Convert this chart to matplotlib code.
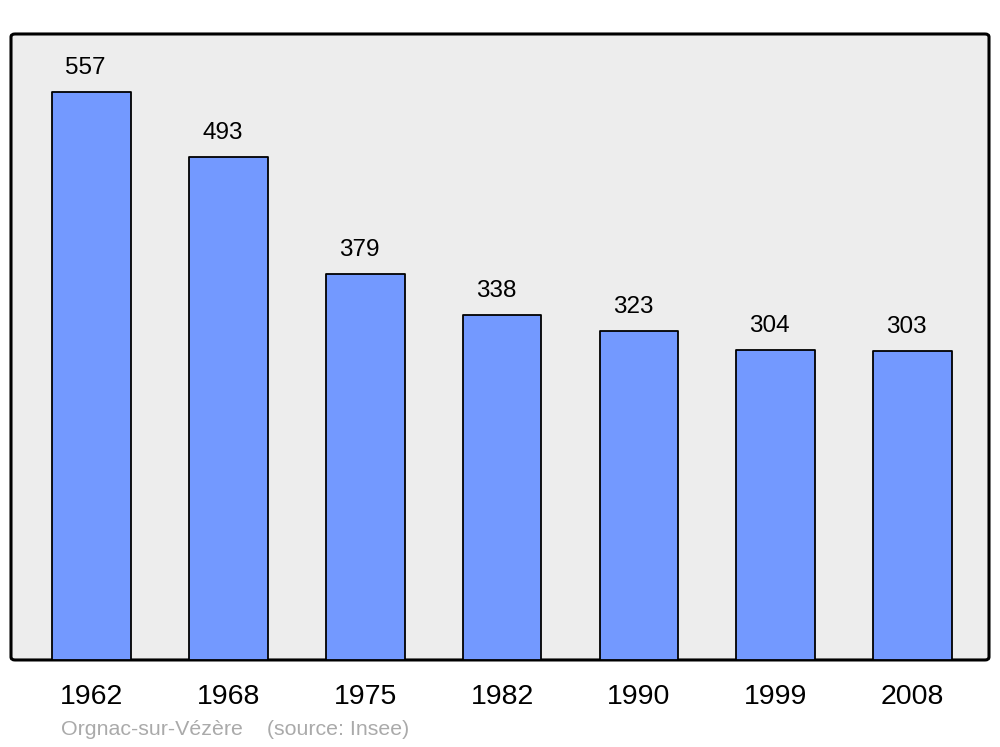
import matplotlib
matplotlib.use("Agg")
import matplotlib.pyplot as plt
from matplotlib.patches import FancyBboxPatch
from matplotlib.transforms import offset_copy

plt.rcParams['font.family'] = ['Liberation Sans', 'DejaVu Sans']

years = ["1962", "1968", "1975", "1982", "1990", "1999", "2008"]
population = [557, 493, 379, 338, 323, 304, 303]
footer = "Orgnac-sur-Vézère    (source: Insee)"

fig = plt.figure(figsize=(10, 7.47), dpi=100)
ax = fig.add_axes([0.011, 0.1165, 0.978, 0.838])
ax.set_facecolor("none")

# rounded frame with grey background, drawn under the axes
frame = FancyBboxPatch((0.011, 0.1165), 0.978, 0.838,
                       boxstyle="round,pad=0,rounding_size=0.004",
                       transform=fig.transFigure, facecolor="#ededed",
                       edgecolor="black", linewidth=2.2, zorder=-1)
fig.patches.append(frame)

x = range(len(years))
ax.bar(x, population, width=0.575, color="#7399ff", edgecolor="black",
       linewidth=1.3, joinstyle="round", zorder=2)

lbl = offset_copy(ax.transData, fig=fig, x=-6, y=13, units="dots")
for i, v in zip(x, population):
    ax.text(i, v, str(v), transform=lbl, ha="center", va="bottom",
            fontsize=17.5, color="black")

ax.set_xlim(-0.59, 6.56)
ax.set_ylim(0, 614)
ax.set_xticks(list(x))
ax.set_xticklabels(years, fontsize=20.5)
ax.tick_params(axis="x", length=0, pad=17)
ax.set_yticks([])
for s in ax.spines.values():
    s.set_visible(False)

fig.text(0.061, 0.011, footer, fontsize=15.4, color="#aaaaaa", ha="left", va="bottom")

fig.savefig("out.png", dpi=100)
